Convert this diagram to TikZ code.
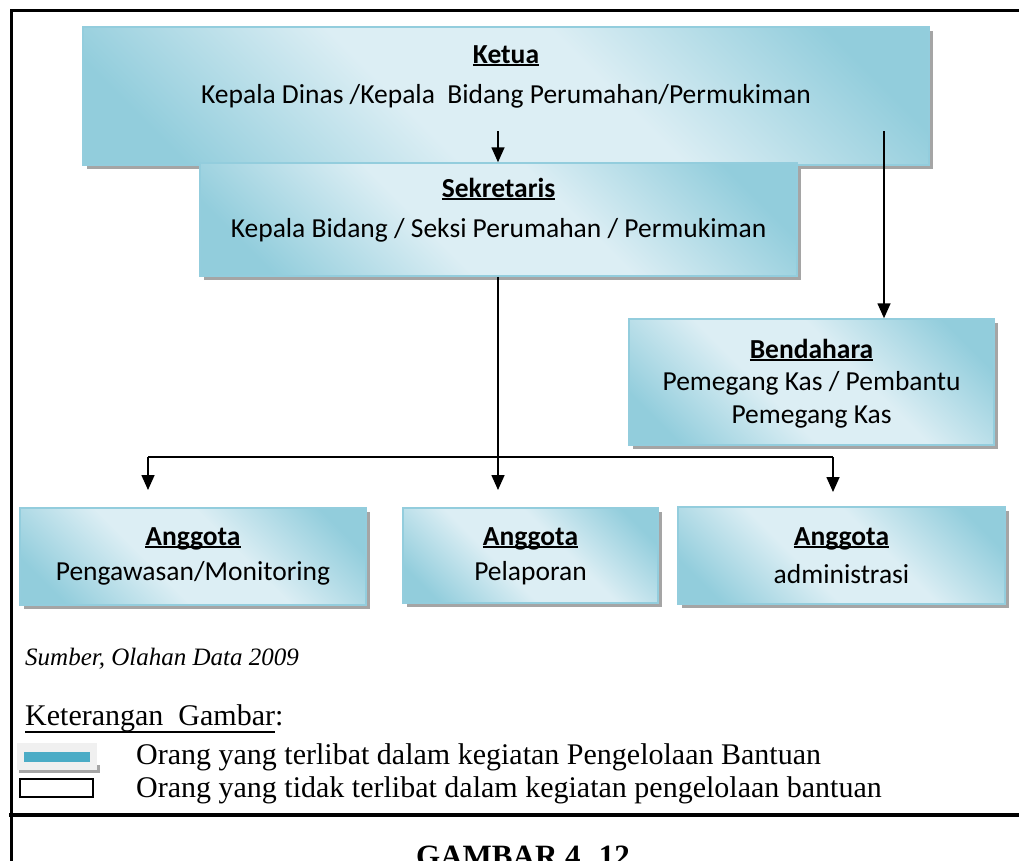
\documentclass[tikz,border=0pt]{standalone}
\usepackage{fontspec}
\setmainfont{Liberation Serif}
\newfontfamily\calfont{Carlito}
\usetikzlibrary{arrows.meta,shadows}

\definecolor{boxlight}{HTML}{DCEEF4}
\definecolor{boxdark}{HTML}{92CDDC}
\definecolor{boxedge}{HTML}{93CDDD}
\definecolor{shadegray}{HTML}{A5A5A5}
\definecolor{legteal}{HTML}{4BACC6}

\pgfdeclarehorizontalshading{diagblue}{100bp}{color(0bp)=(boxdark); color(22bp)=(boxdark); color(42bp)=(boxlight); color(58bp)=(boxlight); color(78bp)=(boxdark); color(100bp)=(boxdark)}

\newcommand{\undl}[2][3pt]{\setbox0=\hbox{#2}\rlap{\rule[-#1]{\wd0}{2pt}}\box0}

\tikzset{
  box/.style={draw=boxedge, line width=1.5pt, shading=diagblue, shading angle=45,
    drop shadow={shadow xshift=4pt, shadow yshift=-4pt, fill=shadegray, opacity=1}, inner sep=0pt},
  ttl/.style={anchor=base, inner sep=0pt, font=\calfont\bfseries\fontsize{27.5}{33}\selectfont},
  txt/.style={anchor=base, inner sep=0pt, font=\calfont\fontsize{27.5}{33}\selectfont},
  legtxt/.style={anchor=base west, inner sep=0pt, font=\fontsize{30}{34}\selectfont},
  arr/.style={line width=1.6pt, -{Triangle[length=15pt,width=13pt]}}
}

\begin{document}
\begin{tikzpicture}[x=1pt,y=-1pt]
  \useasboundingbox (0,0) rectangle (1019,860);
  % frame
  \draw[line width=3pt] (11,862) -- (11,10) -- (1021,10);
  \draw[line width=4pt] (9,815) -- (1021,815);

  % boxes
  \node[box, minimum width=846pt, minimum height=138pt] (ketua) at (506,96) {};
  \node[box, minimum width=597pt, minimum height=113pt] (sek) at (498.5,219.5) {};
  \node[box, minimum width=365pt, minimum height=126pt] (bend) at (811.5,382) {};
  \node[box, minimum width=346pt, minimum height=97pt] (ang1) at (193,556.5) {};
  \node[box, minimum width=255pt, minimum height=95pt] (ang2) at (530.5,555.5) {};
  \node[box, minimum width=327pt, minimum height=97pt] (ang3) at (841.5,555.5) {};

  % texts
  \node[ttl] (ketuaT) at (506,63) {\undl{Ketua}};
  \node[txt] (ketuaL) at (506,103) {Kepala Dinas /Kepala \ Bidang Perumahan/Permukiman};
  \node[ttl] (sekT) at (498.5,197) {\undl{Sekretaris}};
  \node[txt] (sekL) at (498.5,237) {Kepala Bidang / Seksi Perumahan / Permukiman};
  \node[ttl] (bendT) at (811.5,358) {\undl{Bendahara}};
  \node[txt] (bendL1) at (811.5,390) {Pemegang Kas / Pembantu};
  \node[txt] (bendL2) at (811.5,423) {Pemegang Kas};
  \node[ttl] (ang1T) at (193,545) {\undl{Anggota}};
  \node[txt] (ang1L) at (193,580) {Pengawasan/Monitoring};
  \node[ttl] (ang2T) at (530.5,545) {\undl{Anggota}};
  \node[txt] (ang2L) at (530.5,580) {Pelaporan};
  \node[ttl] (ang3T) at (841.5,545) {\undl{Anggota}};
  \node[txt] (ang3L) at (841.5,583) {administrasi};

  % connectors
  \coordinate (k1) at (498,131);
  \coordinate (k2) at (884,131);
  \coordinate (h1) at (148,457);
  \coordinate (h3) at (833,457);
  \coordinate (j1) at (148,490);
  \coordinate (j2) at (498,490);
  \coordinate (j3) at (833,492);
  \draw[arr] (k1) -- (k1 |- sek.north);
  \draw[arr] (k2) -- (k2 |- bend.north);
  \draw[arr] (sek.south -| j2) -- (j2);
  \draw[line width=1.6pt] (h1) -- (h3);
  \draw[arr] (h1) -- (j1);
  \draw[arr] (h3) -- (j3);

  % source and legend
  \node[anchor=base west, inner sep=0pt, font=\itshape\fontsize{25}{30}\selectfont] (src) at (25,665) {Sumber, Olahan Data 2009};
  \node[legtxt] (ket) at (25,725) {\undl[8pt]{Keterangan \ Gambar}:};
  \fill[shadegray] (19,765) rectangle (100,773);
  \fill[black!6] (17,743) rectangle (97,770);
  \fill[legteal] (24,752) rectangle (90,762);
  \draw[line width=1.5pt] (20,779) rectangle (93,797);
  \node[legtxt] (leg1) at (136,764) {Orang yang terlibat dalam kegiatan Pengelolaan Bantuan};
  \node[legtxt] (leg2) at (136,797) {Orang yang tidak terlibat dalam kegiatan pengelolaan bantuan};

  \node[anchor=base, inner sep=0pt, font=\bfseries\fontsize{31}{36}\selectfont] (fig) at (523,866) {GAMBAR 4. 12};
\end{tikzpicture}
\end{document}
